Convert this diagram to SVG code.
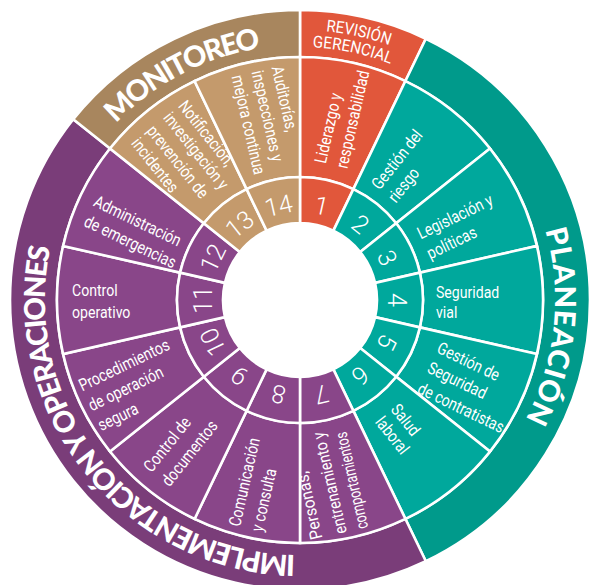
<svg xmlns="http://www.w3.org/2000/svg" width="589" height="585" viewBox="0 0 589 585">
<defs>
<style>
.sep{stroke:#fff;stroke-width:2.6;stroke-linejoin:miter}
.rev{fill:#E1573B}
.planO{fill:#009A8B}.planI{fill:#00A89C}
.impO{fill:#7A3D79}.impI{fill:#894689}
.monO{fill:#A8865E}.monI{fill:#C49A6C}
.lbl{fill:#fff;font-family:Roboto,"Liberation Sans",sans-serif;font-size:17px}
.num{fill:#fff;font-family:Roboto,"Liberation Sans",sans-serif;font-size:25px;font-weight:300;text-anchor:middle}
.ttl{fill:#fff;font-family:Lato,"DejaVu Sans",sans-serif;font-size:29px;font-weight:900}
.sub{fill:#fff;font-family:Roboto,"Liberation Sans",sans-serif;font-size:16.5px}
</style>
<path id="arcMon" d="M73.8,182.3 A255,255 0 0 1 333.3,47.2"/>
<path id="arcPlan" d="M511.4,157.4 A255,255 0 0 1 477.1,483.4"/>
<path id="arcImp" d="M337.7,552.2 A255,255 0 0 1 62.7,206.5"/>
<path id="arcRev1" d="M300,30 A270,270 0 0 1 414.1,55.3"/>
<path id="arcRev2" d="M300,47 A253,253 0 0 1 406.9,70.7"/>
</defs>

<g id="cat-revision">
<path class="rev sep" d="M300,10 A290,290 0 0 1 425.83,38.72 L405.43,81.06 A243,243 0 0 0 300,57 Z"/>
<text class="sub"><textPath href="#arcRev1" startOffset="49.6%" text-anchor="middle" textLength="65" lengthAdjust="spacingAndGlyphs">REVISIÓN</textPath></text>
<text class="sub"><textPath href="#arcRev2" startOffset="47.6%" text-anchor="middle" textLength="80" lengthAdjust="spacingAndGlyphs">GERENCIAL</textPath></text>
</g>
<g id="cat-planeacion">
<path class="planO sep" d="M425.83,38.72 A290,290 0 0 1 425.83,561.28 L405.43,518.94 A243,243 0 0 0 405.43,81.06 Z"/>
<text class="ttl"><textPath href="#arcPlan" startOffset="50%" text-anchor="middle" textLength="195" lengthAdjust="spacing">PLANEACIÓN</textPath></text>
</g>
<g id="cat-implementacion">
<path class="impO sep" d="M425.83,561.28 A290,290 0 0 1 73.27,119.19 L110.02,148.49 A243,243 0 0 0 405.43,518.94 Z"/>
<text class="ttl"><textPath href="#arcImp" startOffset="50%" text-anchor="middle" textLength="449" lengthAdjust="spacing">IMPLEMENTACIÓN Y OPERACIONES</textPath></text>
</g>
<g id="cat-monitoreo">
<path class="monO sep" d="M73.27,119.19 A290,290 0 0 1 300,10 L300,57 A243,243 0 0 0 110.02,148.49 Z"/>
<text class="ttl"><textPath href="#arcMon" startOffset="50%" text-anchor="middle" textLength="166" lengthAdjust="spacing">MONITOREO</textPath></text>
</g>

<g id="seg1">
<path class="rev sep" d="M300,57 A243,243 0 0 1 405.43,81.06 L353.37,189.18 A123,123 0 0 0 300,177 Z"/>
<path class="rev sep" d="M300,177 A123,123 0 0 1 353.37,189.18 L333.41,230.63 A77,77 0 0 0 300,223 Z"/>
<g transform="translate(300 300) rotate(-77.143)"><text class="lbl" transform="translate(138 -5) scale(.83 1)"><tspan x="0" y="0">Liderazgo y</tspan><tspan x="0" y="22">responsabilidad</tspan></text></g>
<text class="num" transform="rotate(12.857 300 300)" x="300" y="212">1</text>
</g>
<g id="seg2">
<path class="planI sep" d="M405.43,81.06 A243,243 0 0 1 489.98,148.49 L396.17,223.31 A123,123 0 0 0 353.37,189.18 Z"/>
<path class="planI sep" d="M353.37,189.18 A123,123 0 0 1 396.17,223.31 L360.20,251.99 A77,77 0 0 0 333.41,230.63 Z"/>
<g transform="translate(300 300) rotate(-51.429)"><text class="lbl" transform="translate(135 -6) scale(.83 1)"><tspan x="0" y="0">Gestión del</tspan><tspan x="0" y="21">riesgo</tspan></text></g>
<text class="num" transform="rotate(38.571 300 300)" x="300" y="212">2</text>
</g>
<g id="seg3">
<path class="planI sep" d="M489.98,148.49 A243,243 0 0 1 536.91,245.93 L419.92,272.63 A123,123 0 0 0 396.17,223.31 Z"/>
<path class="planI sep" d="M396.17,223.31 A123,123 0 0 1 419.92,272.63 L375.07,282.87 A77,77 0 0 0 360.20,251.99 Z"/>
<g transform="translate(300 300) rotate(-25.714)"><text class="lbl" transform="translate(135 -2) scale(.83 1)"><tspan x="0" y="0">Legislación y</tspan><tspan x="0" y="22">políticas</tspan></text></g>
<text class="num" transform="rotate(64.286 300 300)" x="300" y="212">3</text>
</g>
<g id="seg4">
<path class="planI sep" d="M536.91,245.93 A243,243 0 0 1 536.91,354.07 L419.92,327.37 A123,123 0 0 0 419.92,272.63 Z"/>
<path class="planI sep" d="M419.92,272.63 A123,123 0 0 1 419.92,327.37 L375.07,317.13 A77,77 0 0 0 375.07,282.87 Z"/>
<g transform="translate(300 300)"><text class="lbl" transform="translate(136 -2) scale(.83 1)"><tspan x="0" y="0">Seguridad</tspan><tspan x="0" y="20">vial</tspan></text></g>
<text class="num" transform="rotate(90 300 300)" x="300" y="212">4</text>
</g>
<g id="seg5">
<path class="planI sep" d="M536.91,354.07 A243,243 0 0 1 489.98,451.51 L396.17,376.69 A123,123 0 0 0 419.92,327.37 Z"/>
<path class="planI sep" d="M419.92,327.37 A123,123 0 0 1 396.17,376.69 L360.20,348.01 A77,77 0 0 0 375.07,317.13 Z"/>
<g transform="translate(300 300) rotate(25.714)"><text class="lbl" transform="translate(145 -12) scale(.83 1)"><tspan x="0" y="0">Gestión de</tspan><tspan x="0" y="22">Seguridad</tspan><tspan x="0" y="45">de contratistas</tspan></text></g>
<text class="num" transform="rotate(115.714 300 300)" x="300" y="212">5</text>
</g>
<g id="seg6">
<path class="planI sep" d="M489.98,451.51 A243,243 0 0 1 405.43,518.94 L353.37,410.82 A123,123 0 0 0 396.17,376.69 Z"/>
<path class="planI sep" d="M396.17,376.69 A123,123 0 0 1 353.37,410.82 L333.41,369.37 A77,77 0 0 0 360.20,348.01 Z"/>
<g transform="translate(300 300) rotate(51.429)"><text class="lbl" transform="translate(142 -2) scale(.83 1)"><tspan x="0" y="0">Salud</tspan><tspan x="0" y="20">laboral</tspan></text></g>
<text class="num" transform="rotate(141.429 300 300)" x="300" y="212">6</text>
</g>
<g id="seg7">
<path class="impI sep" d="M405.43,518.94 A243,243 0 0 1 300,543 L300,423 A123,123 0 0 0 353.37,410.82 Z"/>
<path class="impI sep" d="M353.37,410.82 A123,123 0 0 1 300,423 L300,377 A77,77 0 0 0 333.41,369.37 Z"/>
<g transform="translate(300 300) rotate(257.143)"><text class="lbl" transform="translate(-237 0)"><tspan x="0" y="-31" textLength="69" lengthAdjust="spacingAndGlyphs">Personas,</tspan><tspan x="0" y="-6" textLength="104" lengthAdjust="spacingAndGlyphs">entrenamiento y</tspan><tspan x="0" y="16" textLength="99" lengthAdjust="spacingAndGlyphs">comportamientos</tspan></text></g>
<text class="num" transform="rotate(167.143 300 300)" x="300" y="212">7</text>
</g>
<g id="seg8">
<path class="impI sep" d="M300,543 A243,243 0 0 1 194.57,518.94 L246.63,410.82 A123,123 0 0 0 300,423 Z"/>
<path class="impI sep" d="M300,423 A123,123 0 0 1 246.63,410.82 L266.59,369.37 A77,77 0 0 0 300,377 Z"/>
<g transform="translate(300 300) rotate(282.857)"><text class="lbl" transform="translate(-235 -8) scale(.83 1)"><tspan x="0" y="0">Comunicación</tspan><tspan x="0" y="23">y consulta</tspan></text></g>
<text class="num" transform="rotate(192.857 300 300)" x="300" y="212">8</text>
</g>
<g id="seg9">
<path class="impI sep" d="M194.57,518.94 A243,243 0 0 1 110.02,451.51 L203.83,376.69 A123,123 0 0 0 246.63,410.82 Z"/>
<path class="impI sep" d="M246.63,410.82 A123,123 0 0 1 203.83,376.69 L239.80,348.01 A77,77 0 0 0 266.59,369.37 Z"/>
<g transform="translate(300 300) rotate(308.571)"><text class="lbl" transform="translate(-228 -8) scale(.83 1)"><tspan x="0" y="0">Control de</tspan><tspan x="0" y="23">documentos</tspan></text></g>
<text class="num" transform="rotate(218.571 300 300)" x="300" y="212">9</text>
</g>
<g id="seg10">
<path class="impI sep" d="M110.02,451.51 A243,243 0 0 1 63.09,354.07 L180.08,327.37 A123,123 0 0 0 203.83,376.69 Z"/>
<path class="impI sep" d="M203.83,376.69 A123,123 0 0 1 180.08,327.37 L224.93,317.13 A77,77 0 0 0 239.80,348.01 Z"/>
<g transform="translate(300 300) rotate(-25.714)"><text class="lbl" transform="translate(-236 -12) scale(.83 1)"><tspan x="0" y="0">Procedimientos</tspan><tspan x="0" y="22">de operación</tspan><tspan x="0" y="44">segura</tspan></text></g>
<text class="num" transform="rotate(244.286 300 300)" x="300" y="212">10</text>
</g>
<g id="seg11">
<path class="impI sep" d="M63.09,354.07 A243,243 0 0 1 63.09,245.93 L180.08,272.63 A123,123 0 0 0 180.08,327.37 Z"/>
<path class="impI sep" d="M180.08,327.37 A123,123 0 0 1 180.08,272.63 L224.93,282.87 A77,77 0 0 0 224.93,317.13 Z"/>
<g transform="translate(300 300)"><text class="lbl" transform="translate(-228 -4) scale(.83 1)"><tspan x="0" y="0">Control</tspan><tspan x="0" y="22">operativo</tspan></text></g>
<text class="num" transform="rotate(270 300 300)" x="300" y="212">11</text>
</g>
<g id="seg12">
<path class="impI sep" d="M63.09,245.93 A243,243 0 0 1 110.02,148.49 L203.83,223.31 A123,123 0 0 0 180.08,272.63 Z"/>
<path class="impI sep" d="M180.08,272.63 A123,123 0 0 1 203.83,223.31 L239.80,251.99 A77,77 0 0 0 224.93,282.87 Z"/>
<g transform="translate(300 300) rotate(25.714)"><text class="lbl" transform="translate(-228 5) scale(.83 1)"><tspan x="0" y="0">Administración</tspan><tspan x="0" y="22">de emergencias</tspan></text></g>
<text class="num" transform="rotate(295.714 300 300)" x="300" y="212">12</text>
</g>
<g id="seg13">
<path class="monI sep" d="M110.02,148.49 A243,243 0 0 1 194.57,81.06 L246.63,189.18 A123,123 0 0 0 203.83,223.31 Z"/>
<path class="monI sep" d="M203.83,223.31 A123,123 0 0 1 246.63,189.18 L266.59,230.63 A77,77 0 0 0 239.80,251.99 Z"/>
<g transform="translate(300 300) rotate(51.429)"><text class="lbl" transform="translate(-228 -25) scale(.83 1)"><tspan x="0" y="0">Notificación,</tspan><tspan x="0" y="19">investigación y</tspan><tspan x="0" y="40">prevención de</tspan><tspan x="0" y="60">incidentes</tspan></text></g>
<text class="num" transform="rotate(321.429 300 300)" x="300" y="212">13</text>
</g>
<g id="seg14">
<path class="monI sep" d="M194.57,81.06 A243,243 0 0 1 300,57 L300,177 A123,123 0 0 0 246.63,189.18 Z"/>
<path class="monI sep" d="M246.63,189.18 A123,123 0 0 1 300,177 L300,223 A77,77 0 0 0 266.59,230.63 Z"/>
<g transform="translate(300 300) rotate(77.143)"><text class="lbl" transform="translate(-233 -24) scale(.83 1)"><tspan x="0" y="0">Auditorías,</tspan><tspan x="0" y="20.5">inspecciones y</tspan><tspan x="0" y="41">mejora continua</tspan></text></g>
<text class="num" transform="rotate(347.143 300 300)" x="300" y="212">14</text>
</g>
<g id="connectors"/>
</svg>
